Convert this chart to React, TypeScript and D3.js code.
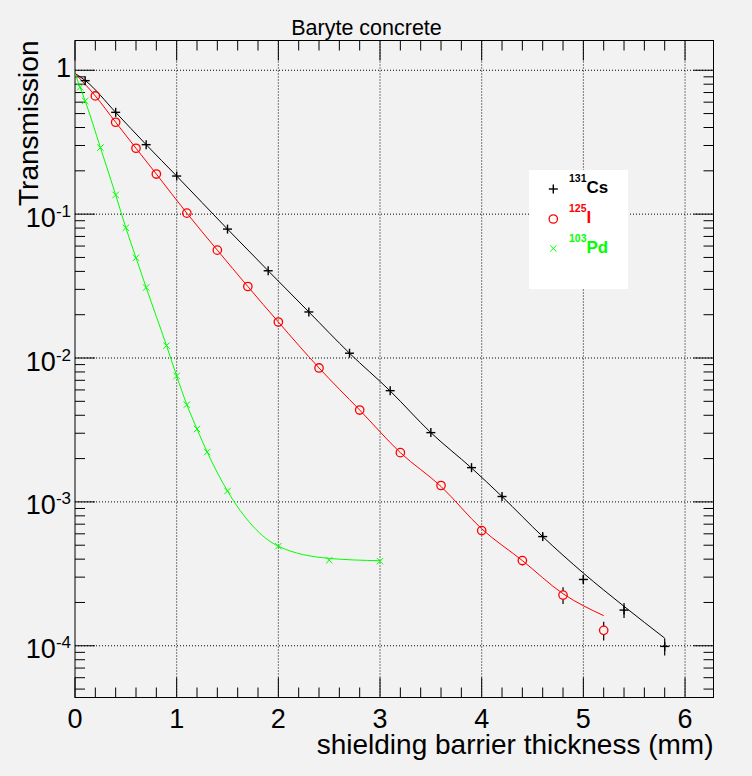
import React from 'react';
import * as d3 from 'd3';

// ---- Data ----
const csX = [0.1, 0.4, 0.7, 1.0, 1.5, 1.9, 2.3, 2.7, 3.1, 3.5, 3.9, 4.2, 4.6, 5.0, 5.4, 5.8];
const csT = [0.847, 0.51, 0.304, 0.184, 0.0787, 0.0404, 0.0209, 0.0108, 0.00593, 0.00303, 0.00173, 0.00109, 5.74e-4, 2.89e-4, 1.77e-4, 9.9e-5];
const csErr = [0, 0, 0, 0, 0, 0, 0, 0, 0, 0, 0, 3e-5, 2.8e-5, 1.9e-5, 2.1e-5, 1.35e-5];

const iX = [0.2, 0.4, 0.6, 0.8, 1.1, 1.4, 1.7, 2.0, 2.4, 2.8, 3.2, 3.6, 4.0, 4.4, 4.8, 5.2];
const iT = [0.663, 0.435, 0.287, 0.19, 0.1016, 0.0562, 0.0314, 0.0178, 0.00853, 0.00435, 0.0022, 0.0013, 6.32e-4, 3.91e-4, 2.25e-4, 1.28e-4];
const iErr = [0, 0, 0, 0, 0, 0, 0, 0, 0, 0, 0, 0, 2e-5, 2.8e-5, 3e-5, 1.9e-5];

const pdX = [0.05, 0.1, 0.25, 0.4, 0.5, 0.6, 0.7, 0.9, 1.0, 1.1, 1.2, 1.3, 1.5, 2.0, 2.5, 3.0];
const pdT = [0.762, 0.612, 0.29, 0.136, 0.0804, 0.0497, 0.0309, 0.0122, 0.0075, 0.00474, 0.00321, 0.00222, 0.00119, 4.92e-4, 3.93e-4, 3.87e-4];

// fitted curves
const csFitX = [0, 0.1, 0.4, 0.7, 1.0, 1.5, 1.9, 2.3, 2.7, 3.1, 3.5, 3.9, 4.2, 4.6, 5.0, 5.4, 5.8];
const csFitT = [0.95, 0.85, 0.51, 0.304, 0.184, 0.0787, 0.0404, 0.0209, 0.0108, 0.0059, 0.00303, 0.00172, 0.00109, 5.74e-4, 3.2e-4, 1.88e-4, 1.13e-4];
const iFitX = [0, 0.2, 0.4, 0.6, 0.8, 1.1, 1.4, 1.7, 2.0, 2.4, 2.8, 3.2, 3.6, 4.0, 4.4, 4.8, 5.2];
const iFitT = [0.95, 0.663, 0.435, 0.287, 0.19, 0.1016, 0.0562, 0.0314, 0.0178, 0.00853, 0.00435, 0.0022, 0.00128, 6.5e-4, 3.91e-4, 2.3e-4, 1.62e-4];
const pdFitX = [0, 0.05, 0.1, 0.25, 0.4, 0.5, 0.6, 0.7, 0.9, 1.0, 1.1, 1.2, 1.3, 1.5, 2.0, 2.5, 3.0];
const pdFitT = [0.95, 0.762, 0.612, 0.29, 0.136, 0.0804, 0.0497, 0.0309, 0.0122, 0.0075, 0.00474, 0.00321, 0.00222, 0.00119, 4.92e-4, 4.05e-4, 3.9e-4];

const xTicks = [0, 1, 2, 3, 4, 5, 6];
const yExps = [0, -1, -2, -3, -4];
const legendIsotopes = ['131', '125', '103'];
const legendElements = ['Cs', 'I', 'Pd'];

const title = 'Baryte concrete';
const xTitle = 'shielding barrier thickness (mm)';
const yTitle = 'Transmission';

const FONT = '"Liberation Sans", Arial, Helvetica, sans-serif';
const BG = '#f2f2f2';

export default function App() {
  const W = 752, H = 776;
  const left = 75, right = 713.5, top = 40.5, bottom = 697.5;
  const x = d3.scaleLinear().domain([0, 6.28]).range([left, right]);
  const y = d3.scaleLog().domain([4.37e-5, 1.61]).range([bottom, top]);

  const line = (xs: number[], ts: number[]) =>
    d3.line<number>().x((_, i) => x(xs[i])).y((t) => y(t)).curve(d3.curveMonotoneX)(ts) || '';

  // minor ticks
  const xMinor: number[] = d3.range(0, 31).map((k) => k * 0.2).filter((v) => v <= 6.28 && Math.abs(v - Math.round(v)) > 1e-6);
  const yMinor: number[] = [];
  for (let e = -5; e <= 0; e++) for (let m = 2; m <= 9; m++) {
    const v = m * Math.pow(10, e);
    if (v >= 4.37e-5 && v <= 1.61) yMinor.push(v);
  }

  const plus = (cx: number, cy: number, key: string) => (
    <g key={key} stroke="#000" strokeWidth={1.4}>
      <line x1={cx - 4.5} x2={cx + 4.5} y1={cy} y2={cy} />
      <line x1={cx} x2={cx} y1={cy - 4.5} y2={cy + 4.5} />
    </g>
  );
  const cross = (cx: number, cy: number, key: string) => (
    <g key={key} stroke="#00ff00" strokeWidth={1}>
      <line x1={cx - 3.2} x2={cx + 3.2} y1={cy - 3.2} y2={cy + 3.2} />
      <line x1={cx - 3.2} x2={cx + 3.2} y1={cy + 3.2} y2={cy - 3.2} />
    </g>
  );
  const circ = (cx: number, cy: number, key: string) => (
    <circle key={key} cx={cx} cy={cy} r={4.2} fill="none" stroke="#ff0000" strokeWidth={1.3} />
  );

  const errBars = (xs: number[], ts: number[], es: number[], gap: number, pre: string) =>
    xs.map((xv, i) => {
      if (!es[i]) return null;
      const cx = x(xv), cy = y(ts[i]);
      const yt = y(ts[i] + es[i]), yb = y(ts[i] - es[i]);
      return (
        <g key={pre + i} stroke="#000" strokeWidth={1.2}>
          {yt < cy - gap && <line x1={cx} x2={cx} y1={yt} y2={cy - gap} />}
          {yb > cy + gap && <line x1={cx} x2={cx} y1={cy + gap} y2={yb} />}
        </g>
      );
    });

  const legendColors = ['#000', '#ff0000', '#00ff00'];
  const legendMarkers = [plus, circ, cross];
  const legX = 553.3;
  const legY = [189, 219, 248.5];

  return (
    <svg width={W} height={H} style={{ position: 'absolute', left: 0, top: 0, fontFamily: FONT }}>
      <rect x={0} y={0} width={W} height={H} fill={BG} />

      {/* grid */}
      <g stroke="#000" strokeWidth={1} strokeDasharray="1,2">
        {xTicks.filter((t) => t > 0).map((t) => (
          <line key={'gx' + t} x1={x(t)} x2={x(t)} y1={top} y2={bottom} />
        ))}
        {yExps.map((e) => (
          <line key={'gy' + e} x1={left} x2={right} y1={y(Math.pow(10, e))} y2={y(Math.pow(10, e))} />
        ))}
      </g>

      {/* ticks */}
      <g stroke="#000" strokeWidth={1}>
        {xTicks.map((t) => (
          <g key={'xt' + t}>
            <line x1={x(t)} x2={x(t)} y1={bottom} y2={bottom - 20} />
            <line x1={x(t)} x2={x(t)} y1={top} y2={top + 20} />
          </g>
        ))}
        {xMinor.map((t, i) => (
          <g key={'xm' + i}>
            <line x1={x(t)} x2={x(t)} y1={bottom} y2={bottom - 10} />
            <line x1={x(t)} x2={x(t)} y1={top} y2={top + 10} />
          </g>
        ))}
        {yExps.map((e) => (
          <g key={'yt' + e}>
            <line x1={left} x2={left + 20} y1={y(Math.pow(10, e))} y2={y(Math.pow(10, e))} />
            <line x1={right} x2={right - 20} y1={y(Math.pow(10, e))} y2={y(Math.pow(10, e))} />
          </g>
        ))}
        {yMinor.map((v, i) => (
          <g key={'ym' + i}>
            <line x1={left} x2={left + 10} y1={y(v)} y2={y(v)} />
            <line x1={right} x2={right - 10} y1={y(v)} y2={y(v)} />
          </g>
        ))}
      </g>

      {/* frame */}
      <rect x={left} y={top} width={right - left} height={bottom - top} fill="none" stroke="#000" strokeWidth={1} />

      {/* fit curves */}
      <path d={line(csFitX, csFitT)} fill="none" stroke="#000" strokeWidth={1} />
      <path d={line(iFitX, iFitT)} fill="none" stroke="#ff0000" strokeWidth={1} />
      <path d={line(pdFitX, pdFitT)} fill="none" stroke="#00ff00" strokeWidth={1} />

      {/* error bars */}
      {errBars(csX, csT, csErr, 0, 'ec')}
      {errBars(iX, iT, iErr, 4.2, 'ei')}

      {/* markers */}
      {csX.map((v, i) => plus(x(v), y(csT[i]), 'pc' + i))}
      {iX.map((v, i) => circ(x(v), y(iT[i]), 'pi' + i))}
      {pdX.map((v, i) => cross(x(v), y(pdT[i]), 'pp' + i))}

      {/* x tick labels */}
      {xTicks.map((t) => (
        <text key={'xl' + t} x={x(t)} y={727.5} fontSize={27} textAnchor="middle" fill="#000">
          {t}
        </text>
      ))}
      {/* y tick labels */}
      {yExps.map((e) =>
        e === 0 ? (
          <text key={'yl' + e} x={71} y={y(1) + 7} fontSize={27} textAnchor="end" fill="#000">1</text>
        ) : (
          <text key={'yl' + e} x={71} y={y(Math.pow(10, e)) + 12.5} fontSize={27} textAnchor="end" fill="#000">
            10<tspan dy={-10} fontSize={17}>{String(e)}</tspan>
          </text>
        )
      )}

      {/* titles */}
      <text x={366.5} y={35} fontSize={21.5} textAnchor="middle" fill="#000">{title}</text>
      <text x={right} y={754} fontSize={28} textAnchor="end" fill="#000">{xTitle}</text>
      <text transform={`translate(38,${top}) rotate(-90)`} fontSize={28} textAnchor="end" fill="#000">{yTitle}</text>

      {/* legend */}
      <rect x={529} y={170} width={99} height={119} fill="#ffffff" />
      {legendElements.map((el, i) => (
        <g key={'lg' + i}>
          {legendMarkers[i](legX, legY[i], 'lm' + i)}
          <text x={569} y={legY[i] + 4} fontWeight="bold" fill={legendColors[i]}>
            <tspan fontSize={10.5} dy={-11}>{legendIsotopes[i]}</tspan>
            <tspan fontSize={17} dy={11}>{el}</tspan>
          </text>
        </g>
      ))}
    </svg>
  );
}
